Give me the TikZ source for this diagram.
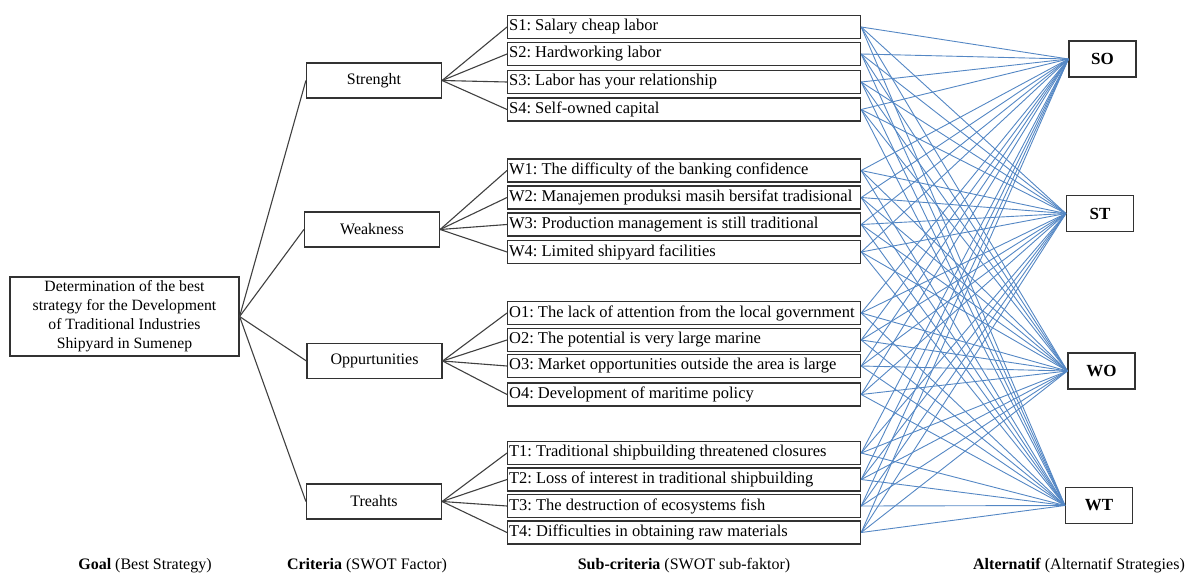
\documentclass[tikz,border=0pt]{standalone}
\usepackage{fontspec}
\setmainfont{Liberation Serif}
\definecolor{officeblue}{RGB}{84,135,196}
\definecolor{boxline}{RGB}{50,50,50}
\frenchspacing
\begin{document}
\begin{tikzpicture}[x=1pt,y=-1pt,
  box/.style={draw=boxline,line width=1.2pt,inner sep=0pt},
  subbox/.style={box,anchor=west,minimum width=353pt,minimum height=23pt,text width=350pt,align=flush left,font=\fontsize{16.5}{18}\selectfont},
  critbox/.style={box,minimum width=135pt,minimum height=35pt,font=\fontsize{16}{18}\selectfont},
  altbox/.style={box,minimum width=67pt,minimum height=36pt,font=\fontsize{17}{19}\selectfont\bfseries},
  goalbox/.style={box,minimum width=229pt,minimum height=79pt,align=center,font=\fontsize{15.7}{19}\selectfont},
  blk/.style={draw=black!75,line width=1.1pt},
  blu/.style={draw=officeblue,line width=0.9pt},
  lab/.style={font=\fontsize{16}{18}\selectfont}
]
\useasboundingbox (0,0) rectangle (1188,575);
% goal
\node[goalbox] (goal) at (124.5,316.5) {Determination of the best\\strategy for the Development\\of Traditional Industries\\Shipyard in Sumenep};
% criteria
\node[critbox] (S) at (374,80.5) {Strenght};
\node[critbox] (W) at (372,229.5) {Weakness};
\node[critbox] (O) at (374.5,361) {Oppurtunities};
\node[critbox] (T) at (374,501.5) {Treahts};
% sub-criteria
\node[subbox] (S1) at (507,27) {S1: Salary cheap labor};
\node[subbox] (S2) at (507,54) {S2: Hardworking labor};
\node[subbox] (S3) at (507,82) {S3: Labor has your relationship};
\node[subbox] (S4) at (507,109.5) {S4: Self-owned capital};
\node[subbox] (W1) at (507,170.5) {W1: The difficulty of the banking confidence};
\node[subbox] (W2) at (507,197.5) {W2: Manajemen produksi masih bersifat tradisional};
\node[subbox] (W3) at (507,224.5) {W3: Production management is still traditional};
\node[subbox] (W4) at (507,252) {W4: Limited shipyard facilities};
\node[subbox] (O1) at (507,313) {O1: The lack of attention from the local government};
\node[subbox] (O2) at (507,340) {O2: The potential is very large marine};
\node[subbox] (O3) at (507,366) {O3: Market opportunities outside the area is large};
\node[subbox] (O4) at (507,394.5) {O4: Development of maritime policy};
\node[subbox] (T1) at (507,453) {T1: Traditional shipbuilding threatened closures};
\node[subbox] (T2) at (507,479.5) {T2: Loss of interest in traditional shipbuilding};
\node[subbox] (T3) at (507,506) {T3: The destruction of ecosystems fish};
\node[subbox] (T4) at (507,532.5) {T4: Difficulties in obtaining raw materials};
% alternatives
\node[altbox] (SO) at (1102.5,59) {SO};
\node[altbox] (ST) at (1100,213.5) {ST};
\node[altbox] (WO) at (1101.5,371) {WO};
\node[altbox] (WT) at (1099,505.5) {WT};
% black connectors
\foreach \c in {S,W,O,T}{
  \draw[blk] (goal.east) -- (\c.west);
  \foreach \i in {1,2,3,4}{
    \draw[blk] (\c.east) -- (\c\i.west);
  }
}
% blue connectors
\foreach \c in {S,W,O,T}{
  \foreach \i in {1,2,3,4}{
    \foreach \a in {SO,ST,WO,WT}{
      \draw[blu] (\c\i.east) -- (\a.west);
    }
  }
}
% bottom labels
\node[lab] (l1) at (145,566) {\textbf{Goal} (Best Strategy)};
\node[lab] (l2) at (367,566) {\textbf{Criteria} (SWOT Factor)};
\node[lab] (l3) at (684,566) {\textbf{Sub-criteria} (SWOT sub-faktor)};
\node[lab] (l4) at (1079,566) {\textbf{Alternatif} (Alternatif Strategies)};
\end{tikzpicture}
\end{document}
